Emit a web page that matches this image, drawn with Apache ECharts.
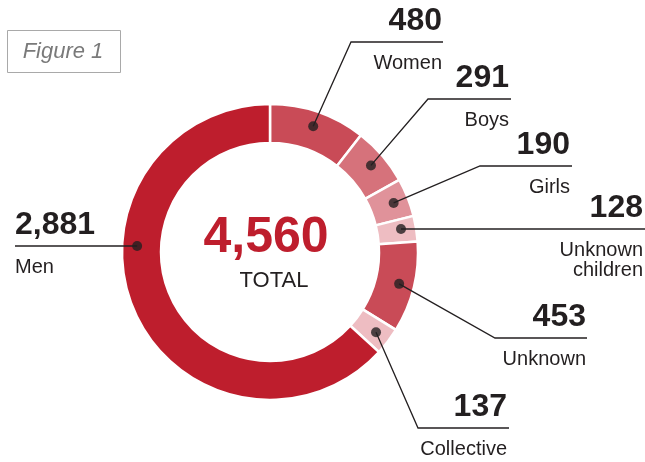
<!DOCTYPE html>
<html>
<head>
<meta charset="utf-8">
<script src="https://cdn.jsdelivr.net/npm/echarts@6/dist/echarts.min.js"></script>
<style>
html,body{margin:0;padding:0;background:#fff}
#main{width:645px;height:462px}
</style>
</head>
<body>
<div id="main"></div>
<script>
// data, clockwise from 12 o'clock
var categories = ['Women', 'Boys', 'Girls', 'Unknown children', 'Unknown', 'Collective', 'Men'];
var values = [480, 291, 190, 128, 453, 137, 2881];
var valueLabels = ['480', '291', '190', '128', '453', '137', '2,881'];
var totalLabel = '4,560';
var totalName = 'TOTAL';
var colors = ['#c94b57', '#d6727b', '#e0929a', '#eebdc2', '#c94b57', '#eebdc2', '#be1e2d'];

var font = '"Liberation Sans",Arial,sans-serif';
var ink = '#231f20';

var cx = 270, cy = 252, rIn = 109, rOut = 148, rDot = 133;

// where each callout sits: y of its rule, bend x, rule end, text edge
var callouts = [
    {lineY: 42, elbowX: 351, endX: 443, textX: 442, align: 'right'},
    {lineY: 99, elbowX: 428, endX: 511, textX: 509, align: 'right'},
    {lineY: 166, elbowX: 480, endX: 572, textX: 570, align: 'right'},
    {lineY: 229, snap: true, endX: 645, textX: 643, align: 'right'},
    {lineY: 338, elbowX: 495, endX: 587, textX: 586, align: 'right'},
    {lineY: 428, elbowX: 418, endX: 509, textX: 507, align: 'right'},
    {lineY: 246, snap: true, endX: 15, textX: 15, align: 'left'}
];

var total = values.reduce(function (a, b) { return a + b; }, 0);

// dot angles: middle of the slice, or where the ring meets a straight rule
var dotAngles = [];
var acc = 0;
values.forEach(function (v, i) {
    var deg = (acc + v / 2) / total * 360;
    var c = callouts[i];
    if (c.snap) {
        var a = Math.acos((cy - c.lineY) / rDot) * 180 / Math.PI;
        deg = c.align === 'left' ? 360 - a : a;
    }
    dotAngles.push(deg);
    acc += v;
});
var dotPixels = dotAngles.map(function (deg) {
    var t = deg * Math.PI / 180;
    return [cx + rDot * Math.sin(t), cy - rDot * Math.cos(t)];
});

var pieData = categories.map(function (name, i) {
    return {name: name, value: values[i], itemStyle: {color: colors[i]}};
});
var dotData = dotAngles.map(function (deg) {
    return [rDot, deg / 360 * total];
});

// leader lines: dot -> bend -> end of rule
var leaders = callouts.map(function (c, i) {
    var d = dotPixels[i];
    var pts = c.snap ? [[d[0], c.lineY], [c.endX, c.lineY]]
        : [[d[0], d[1]], [c.elbowX, c.lineY], [c.endX, c.lineY]];
    return {type: 'polyline', z: 50, silent: true, shape: {points: pts},
        style: {stroke: ink, lineWidth: 1.3, fill: null}};
});

var myChart = echarts.init(document.getElementById('main'));
var option = {
    animation: false,
    polar: {center: [cx, cy], radius: rOut},
    angleAxis: {type: 'value', min: 0, max: total, startAngle: 90, clockwise: true, show: false},
    radiusAxis: {type: 'value', min: 0, max: rOut, show: false},
    graphic: [
        {type: 'rect', shape: {x: 7.5, y: 30.5, width: 113, height: 42},
            style: {fill: '#fff', stroke: '#a9a9a9', lineWidth: 1}},
        {type: 'text', x: 63, y: 52,
            style: {text: 'Figure 1', font: 'italic 22px ' + font, fill: '#7a7a7a',
                align: 'center', verticalAlign: 'middle'}},
        {type: 'text', x: 266, y: 238,
            style: {text: totalLabel, font: 'bold 50px ' + font, fill: '#be1e2d',
                align: 'center', verticalAlign: 'middle'}},
        {type: 'text', x: 274, y: 281,
            style: {text: totalName, font: '22px ' + font, fill: ink,
                align: 'center', verticalAlign: 'middle'}}
    ].concat(leaders),
    series: [
        {
            type: 'pie',
            center: [cx, cy],
            radius: [rIn, rOut],
            startAngle: 90,
            clockwise: true,
            avoidLabelOverlap: false,
            itemStyle: {borderColor: '#fff', borderWidth: 2.5},
            emphasis: {disabled: true},
            label: {
                show: true,
                position: 'outside',
                color: ink,
                formatter: function (p) {
                    var names = p.name === 'Unknown children'
                        ? p.name.split(' ').map(function (s) { return '{n|' + s + '}'; })
                        : ['{n|' + p.name + '}'];
                    return '{v|' + valueLabels[p.dataIndex] + '}\n{s| }\n' + names.join('\n');
                },
                rich: {
                    v: {fontFamily: font, fontWeight: 'bold', fontSize: 32, lineHeight: 36, color: ink},
                    s: {fontSize: 2, lineHeight: 14},
                    n: {fontFamily: font, fontSize: 20, lineHeight: 20, color: ink}
                }
            },
            labelLine: {show: false},
            labelLayout: function (p) {
                var c = callouts[p.dataIndex];
                return {x: c.textX, y: c.lineY - 39, align: c.align, verticalAlign: 'top'};
            },
            data: pieData
        },
        {
            type: 'scatter',
            coordinateSystem: 'polar',
            symbolSize: 10,
            itemStyle: {color: ink},
            silent: true,
            z: 5,
            data: dotData
        }
    ]
};
myChart.setOption(option);
window.onresize = myChart.resize;
</script>
</body>
</html>
